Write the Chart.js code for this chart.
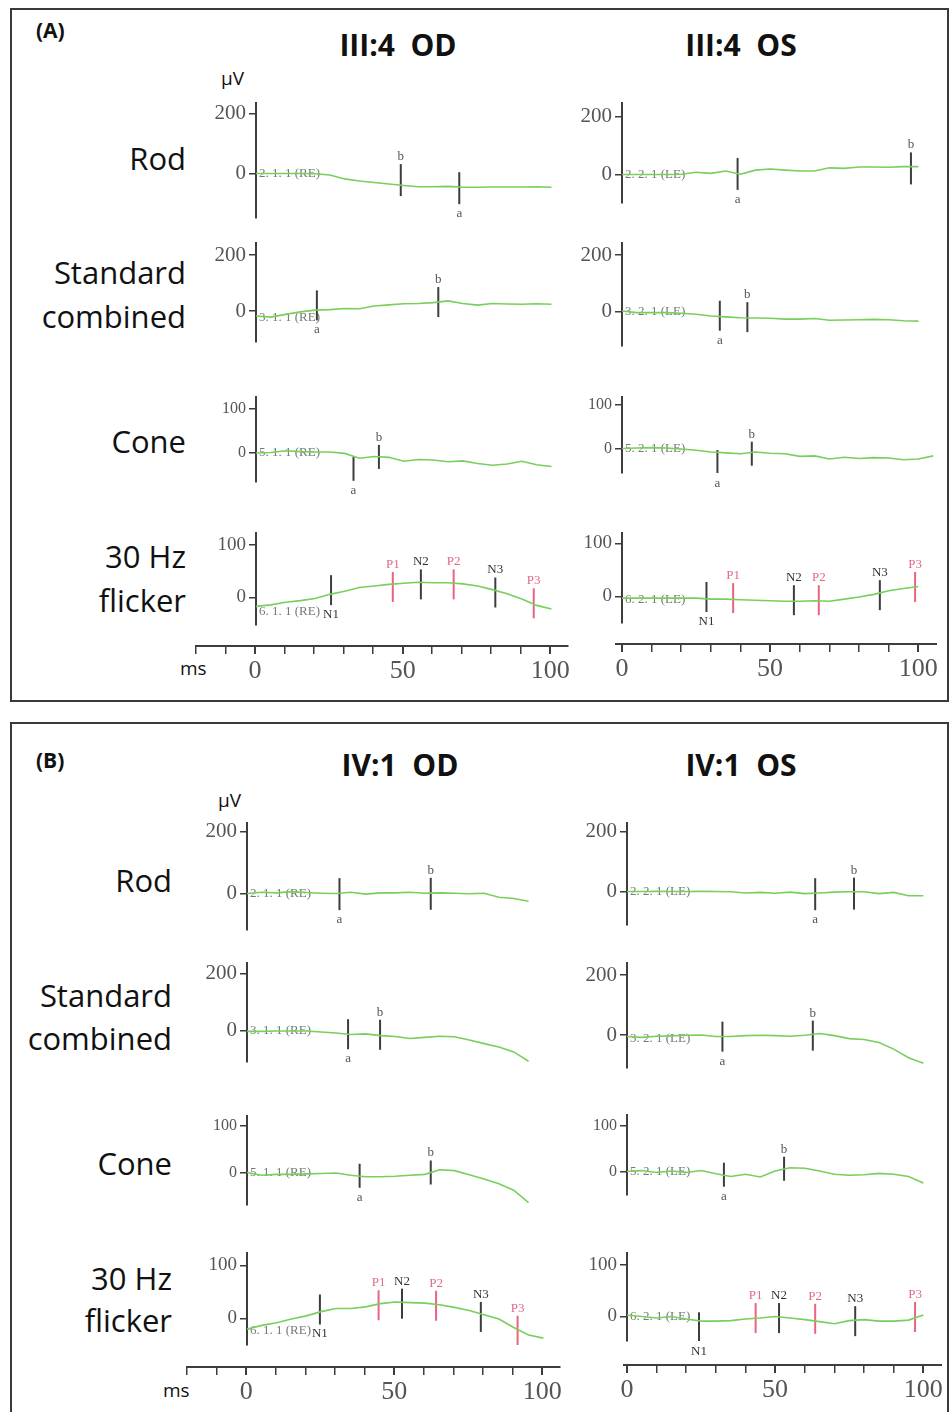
<!DOCTYPE html>
<html>
<head>
<meta charset="utf-8">
<script src="https://cdn.jsdelivr.net/npm/chart.js@4.4.1/dist/chart.umd.min.js"></script>
<style>
body { margin: 0; background: #fff; }
#page { position: relative; width: 952px; height: 1412px; overflow: hidden; font-family: 'Open Sans', sans-serif; color: #111; }
.box { position: absolute; border: 2px solid #3a3a3a; }
.t { position: absolute; white-space: pre; line-height: 1; }
canvas { position: absolute; }
</style>
</head>
<body>
<div id="page"></div>
<script>
/* time base (ms) shared by all traces */
const XS = [0,5,10,15,20,25,30,35,40,45,50,55,60,65,70,75,80,85,90,95,100,105]
const X_TICKS = [-20,-10,0,10,20,30,40,50,60,70,80,90,100]
const X_LABELS = [0,50,100]
const Y_TICKS = [[0,200],[0,200],[0,100],[0,100]]
const CODES = ['2','3','5','6']

/* (A) III:4 - amplitudes in uV */
const aRodOD  = [0,0,0,0,-1,-5,-18,-25,-30,-35,-40,-44,-44,-43,-46,-46,-45,-45,-45,-44,-46]
const aStdOD  = [-18,-22,-12,-3,3,5,9,8,18,22,26,27,30,36,27,21,27,25,24,26,24]
const aConeOD = [-1,0,4,2,1,1,-2,-13,-9,-11,-20,-16,-17,-21,-19,-25,-29,-26,-20,-28,-32]
const aFlkOD  = [-17,-14,-9,-6,-2,6,12,19,22,25,27,29,28,28,26,22,15,7,-3,-15,-22]
const aRodOS  = [0,0,0,0,1,8,4,12,1,15,19,15,12,12,23,21,26,26,25,27,27]
const aStdOS  = [2,-4,-4,-4,-6,-10,-16,-19,-22,-23,-24,-27,-27,-25,-31,-30,-29,-28,-29,-33,-34]
const aConeOS = [0,1,2,1,-1,-4,-8,-10,-12,-8,-11,-12,-18,-17,-24,-20,-23,-21,-22,-26,-24,-17]
const aFlkOS  = [-3,-3,-3,-3,-3,-3,-5,-5,-6,-7,-8,-9,-9,-8,-9,-5,-1,4,11,15,19]

/* (B) IV:1 */
const bRodOD  = [0,4,2,6,3,1,0,4,-2,2,2,4,1,2,1,-1,1,-12,-16,-25]
const bStdOD  = [-3,-3,-2,-2,-2,-5,-9,-14,-12,-18,-21,-28,-24,-20,-22,-33,-46,-58,-75,-108]
const bConeOD = [0,-6,-4,-4,-3,-2,-1,-6,-9,-9,-8,-6,-4,6,4,-5,-14,-24,-38,-65]
const bFlkOD  = [-20,-13,-8,-1,5,13,19,19,22,28,31,30,29,26,21,15,7,-1,-17,-31,-37]
const bRodOS  = [0,0,1,0,0,1,0,-1,-5,-3,-6,-2,-7,-5,-2,-1,-1,-7,-3,-14,-14]
const bStdOS  = [-5,-8,-4,-3,-1,0,-5,-5,-2,-1,-2,-4,-1,5,-2,-12,-15,-25,-47,-76,-94]
const bConeOS = [0,2,-2,1,-2,2,-5,-11,-6,-12,1,8,7,1,-6,-8,-7,-4,-6,-11,-25]
const bFlkOS  = [3,0,-3,0,-5,-9,-9,-8,-5,-3,0,-3,-6,-10,-14,-8,-6,-9,-9,-7,3]

/* peak markers: [name, latency ms, amplitude uV] */
const aRodOD_m  = [['b',49,-22],['a',68.8,-49]]
const aStdOD_m  = [['a',20.6,20],['b',61.7,32]]
const aConeOD_m = [['a',33,-37],['b',41.6,-10]]
const aFlkOD_m  = [['N1',25.4,14],['P1',46.3,20],['N2',55.8,25],['P2',66.9,25],['N3',81,9.5],['P3',94,-11]]
const aRodOS_m  = [['a',39,2],['b',97.5,21]]
const aStdOS_m  = [['a',33,-15],['b',42.3,-20]]
const aConeOS_m = [['a',32.2,-31],['b',43.8,-12]]
const aFlkOS_m  = [['N1',28.5,-1],['P1',37.5,-3],['N2',58,-7],['P2',66.4,-7],['N3',87,2.5],['P3',98.9,18]]
const bRodOD_m  = [['a',31.2,-2],['b',62,-1]]
const bStdOD_m  = [['a',34.1,-13],['b',44.9,-15]]
const bConeOD_m = [['a',38,-7],['b',62,0]]
const bFlkOD_m  = [['N1',24.6,17],['P1',44.4,25],['N2',52.3,28],['P2',63.8,24],['N3',78.9,3],['P3',91.3,-23]]
const bRodOS_m  = [['a',63.5,-9],['b',76.6,-7]]
const bStdOS_m  = [['a',32.2,-5.5],['b',62.7,-2]]
const bConeOS_m = [['a',32.7,-7],['b',53,6]]
const bFlkOS_m  = [['N1',24.3,-21],['P1',43.4,-3],['N2',51.3,-3],['P2',63.5,-4.5],['N3',77,-9],['P3',97.2,-1]]

const GREEN = '#78cf5c', DARK = '#3d3d3d', PINK = '#e8647f', GREY = '#555'
const SERIF = "'Liberation Serif', 'DejaVu Serif', serif"
const YW = 60, PAD = 20, XMAX = 110, XMAXB = 106
const HALF = [16, 15, 12, 15]
const YFONT = [21, 21, 16, 19]

/* page layout: column origin and per-row [top, zero, tick, bottom, label offset] in px */
const COLS = [
    { eye: 'OD', x0: 255.5, ppms: 2.95, axisY: 646, xmin: -20,
      geo: [[103,173.5,113.5,218,0],[243,311,255,342,7],[397,452.5,408.5,482,0],[533,597.5,545,625,14]],
      series: [aRodOD, aStdOD, aConeOD, aFlkOD], marks: [aRodOD_m, aStdOD_m, aConeOD_m, aFlkOD_m] },
    { eye: 'OS', x0: 621.5, ppms: 2.96, axisY: 644, xmin: -2,
      geo: [[103,174.5,116.5,203,0],[243,311.5,255,346,0],[397,448.5,405,473,0],[533,596.5,543.5,623,3]],
      series: [aRodOS, aStdOS, aConeOS, aFlkOS], marks: [aRodOS_m, aStdOS_m, aConeOS_m, aFlkOS_m] },
    { eye: 'OD', x0: 246.7, ppms: 2.96, axisY: 1366.5, xmin: -20,
      geo: [[823,893.5,831.5,930,0],[963,1030.5,973.5,1062,0],[1116,1172.5,1126,1205,0],[1253,1318.5,1265.5,1345,12]],
      series: [bRodOD, bStdOD, bConeOD, bFlkOD], marks: [bRodOD_m, bStdOD_m, bConeOD_m, bFlkOD_m] },
    { eye: 'OS', x0: 627.3, ppms: 2.96, axisY: 1365, xmin: -1,
      geo: [[823,891.5,831.5,925,0],[963,1035,975,1068,4],[1115,1171.5,1125.5,1195,0],[1253,1316.5,1265,1341,0]],
      series: [bRodOS, bStdOS, bConeOS, bFlkOS], marks: [bRodOS_m, bStdOS_m, bConeOS_m, bFlkOS_m] }
]

const page = document.getElementById('page')
const ergInfo = new WeakMap()

function addText(txt, x, y, size, opts) {
    opts = opts || {}
    const d = document.createElement('div')
    d.className = 't'
    d.textContent = txt
    d.style.fontSize = size + 'px'
    d.style.left = x + 'px'
    d.style.top = y + 'px'
    if (opts.bold) d.style.fontWeight = 'bold'
    const tx = opts.align === 'right' ? '-100%' : opts.align === 'center' ? '-50%' : '0'
    d.style.transform = 'translate(' + tx + ',-50%)'
    page.appendChild(d)
}

function addBox(l, t, w, h) {
    const d = document.createElement('div')
    d.className = 'box'
    d.style.left = l + 'px'; d.style.top = t + 'px'
    d.style.width = w + 'px'; d.style.height = h + 'px'
    page.appendChild(d)
}

const ergLabels = {
    id: 'ergLabels',
    beforeDatasetsDraw(chart) {
        const info = ergInfo.get(chart.canvas)
        if (!info) return
        const ctx = chart.ctx, x = chart.scales.x, y = chart.scales.y
        ctx.save()
        ctx.font = '13px ' + SERIF
        ctx.fillStyle = '#727c72'
        ctx.textBaseline = 'middle'
        ctx.fillText(info.code, x.getPixelForValue(0) + 3, y.getPixelForValue(0) + info.dy)
        ctx.restore()
    },
    afterDatasetsDraw(chart) {
        const info = ergInfo.get(chart.canvas)
        if (!info) return
        const ctx = chart.ctx, x = chart.scales.x, y = chart.scales.y
        ctx.save()
        ctx.textAlign = 'center'
        info.marks.forEach(function(m) {
            const name = m[0]
            const below = name === 'a' || name === 'N1'
            const px = x.getPixelForValue(m[1])
            const py = y.getPixelForValue(m[2])
            const big = name.length > 1
            ctx.font = (big ? 13 : 13) + 'px ' + SERIF
            ctx.fillStyle = name[0] === 'P' ? '#e06a88' : (big ? '#333' : GREY)
            if (below) {
                ctx.textBaseline = 'top'
                ctx.fillText(name, px, py + info.half + 3)
            } else {
                ctx.textBaseline = 'bottom'
                ctx.fillText(name, px, py - info.half - 1)
            }
        })
        ctx.restore()
    }
}

function traceChart(col, row) {
    const g = col.geo[row]
    const yt = Y_TICKS[row]
    const ppu = (g[1] - g[2]) / yt[1]
    const ymax = (g[1] - g[0]) / ppu
    const ymin = -(g[3] - g[1]) / ppu
    const areaW = XMAX * col.ppms
    const cv = document.createElement('canvas')
    cv.width = Math.round(YW + areaW + 4)
    cv.height = Math.round(g[3] - g[0]) + 2 * PAD
    page.appendChild(cv)

    const half = HALF[row]
    const values = col.series[row]
    const datasets = [{
        data: values.map(function(v, i) { return { x: XS[i], y: v } }),
        borderColor: GREEN, borderWidth: 1.6, pointRadius: 0, tension: 0
    }]
    col.marks[row].forEach(function(m) {
        datasets.push({
            data: [{ x: m[1], y: m[2] - half / ppu }, { x: m[1], y: m[2] + half / ppu }],
            borderColor: m[0][0] === 'P' ? PINK : DARK, borderWidth: 2, pointRadius: 0
        })
    })
    const eyeNo = col.eye === 'OD' ? '1' : '2'
    ergInfo.set(cv, {
        code: CODES[row] + '. ' + eyeNo + '. 1 (' + (col.eye === 'OD' ? 'RE' : 'LE') + ')',
        dy: g[4], half: half, marks: col.marks[row]
    })

    const chart = new Chart(cv, {
        type: 'line',
        data: { datasets: datasets },
        plugins: [ergLabels],
        options: {
            animation: false, responsive: false, events: [],
            layout: { padding: { left: 0, right: 4, top: PAD, bottom: PAD } },
            plugins: { legend: { display: false }, tooltip: { enabled: false } },
            scales: {
                x: { type: 'linear', display: false, min: 0, max: XMAX },
                y: {
                    min: ymin, max: ymax,
                    afterFit: function(s) { s.width = YW },
                    afterBuildTicks: function(s) { s.ticks = yt.map(function(v) { return { value: v } }) },
                    border: { color: DARK, width: 2 },
                    grid: { drawOnChartArea: false, tickLength: 7, color: DARK, lineWidth: 1.5 },
                    ticks: { font: { family: SERIF, size: YFONT[row] }, color: GREY, padding: 3, autoSkip: false }
                }
            }
        }
    })
    cv.style.left = (col.x0 - chart.chartArea.left) + 'px'
    cv.style.top = (g[1] - chart.scales.y.getPixelForValue(0)) + 'px'
}

function axisChart(col) {
    const cv = document.createElement('canvas')
    cv.width = Math.round(60 + (XMAXB - col.xmin) * col.ppms)
    cv.height = 70
    page.appendChild(cv)
    const chart = new Chart(cv, {
        type: 'line',
        data: { datasets: [] },
        options: {
            animation: false, responsive: false, events: [],
            layout: { padding: { left: 30, right: 30, top: 4, bottom: 0 } },
            plugins: { legend: { display: false }, tooltip: { enabled: false } },
            scales: {
                x: {
                    type: 'linear', min: col.xmin, max: XMAXB,
                    afterBuildTicks: function(s) {
                        s.ticks = X_TICKS.filter(function(v) { return v >= col.xmin }).map(function(v) { return { value: v } })
                    },
                    border: { color: DARK, width: 2 },
                    grid: {
                        drawOnChartArea: false, tickLength: 8, color: DARK,
                        lineWidth: function(c) { return c.tick && X_LABELS.includes(c.tick.value) ? 2 : 1.5 }
                    },
                    ticks: {
                        font: { family: SERIF, size: 26 }, color: GREY, padding: 2,
                        maxRotation: 0, autoSkip: false,
                        callback: function(v) { return X_LABELS.includes(v) ? String(v) : '' }
                    }
                },
                y: { display: false, min: 0, max: 1 }
            }
        }
    })
    cv.style.left = (col.x0 - chart.scales.x.getPixelForValue(0)) + 'px'
    cv.style.top = (col.axisY - chart.chartArea.bottom) + 'px'
}

/* frames and text */
addBox(10, 8, 935, 690)
addBox(10, 722, 935, 720)

addText('(A)', 36, 30, 21, { bold: true })
addText('III:4  OD', 398, 45, 30, { bold: true, align: 'center' })
addText('III:4  OS', 741, 45, 30, { bold: true, align: 'center' })
addText('\u00b5V', 221, 78, 19)
addText('ms', 180, 668, 19)
addText('Rod', 186, 158, 31, { align: 'right' })
addText('Standard', 186, 272, 31, { align: 'right' })
addText('combined', 186, 316, 31, { align: 'right' })
addText('Cone', 186, 441, 31, { align: 'right' })
addText('30 Hz', 186, 556, 31, { align: 'right' })
addText('flicker', 186, 600, 31, { align: 'right' })

addText('(B)', 36, 760, 21, { bold: true })
addText('IV:1  OD', 400, 765, 30, { bold: true, align: 'center' })
addText('IV:1  OS', 741, 765, 30, { bold: true, align: 'center' })
addText('\u00b5V', 218, 800, 19)
addText('ms', 163, 1390, 19)
addText('Rod', 172, 880, 31, { align: 'right' })
addText('Standard', 172, 995, 31, { align: 'right' })
addText('combined', 172, 1038, 31, { align: 'right' })
addText('Cone', 172, 1163, 31, { align: 'right' })
addText('30 Hz', 172, 1278, 31, { align: 'right' })
addText('flicker', 172, 1320, 31, { align: 'right' })

COLS.forEach(function(col) {
    for (let r = 0; r < 4; r++) traceChart(col, r)
    axisChart(col)
})
</script>
</body>
</html>
